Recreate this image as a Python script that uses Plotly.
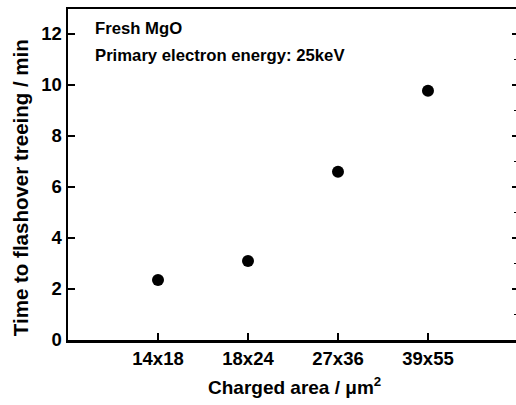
import plotly.graph_objects as go

categories = ["14x18", "18x24", "27x36", "39x55"]
positions = [1, 2, 3, 4]
times = [2.35, 3.1, 6.6, 9.77]
y_ticks = [0, 2, 4, 6, 8, 10, 12]

FONT = "Liberation Sans, Arial, sans-serif"

fig = go.Figure()
fig.add_trace(go.Scatter(
    x=positions, y=times, mode="markers",
    marker=dict(color="black", size=12, symbol="circle"),
    showlegend=False, hoverinfo="skip",
))
fig.add_trace(go.Scatter(x=[None], y=[None], yaxis="y2", showlegend=False))

fig.update_layout(
    width=516, height=405,
    margin=dict(l=68, r=0, t=9, b=65, autoexpand=False),
    plot_bgcolor="white", paper_bgcolor="white",
    font=dict(family=FONT, color="black", size=14, weight="bold"),
    xaxis=dict(
        range=[0, 4.978], tickvals=positions, ticktext=categories,
        ticks="inside", ticklen=7, tickwidth=2, tickcolor="black",
        showline=True, linewidth=2.5, linecolor="black", mirror=True,
        showgrid=False, zeroline=False, automargin=False,
        tickfont=dict(size=18.5, family=FONT, weight="bold"),
    ),
    yaxis=dict(
        range=[0, 12.98], tickvals=y_ticks,
        ticks="inside", ticklen=7, tickwidth=2, tickcolor="black",
        showline=True, linewidth=2.5, linecolor="black",
        showgrid=False, zeroline=False, automargin=False,
        tickfont=dict(size=18.5, family=FONT, weight="bold"),
    ),
    yaxis2=dict(
        range=[0, 12.98], overlaying="y", side="right",
        tickvals=y_ticks, ticks="inside", ticklen=4, tickwidth=2, tickcolor="black",
        showticklabels=False, showline=False, showgrid=False, zeroline=False,
        automargin=False,
        minor=dict(dtick=1, ticks="inside", ticklen=2, tickwidth=1, tickcolor="black"),
    ),
)

# axis titles
fig.add_annotation(x=-0.107, y=0.459, xref="paper", yref="paper",
                   text="Time to flashover treeing / min", showarrow=False,
                   textangle=-90, xanchor="center", yanchor="middle",
                   font=dict(size=20.5, family=FONT, weight="bold"))
fig.add_annotation(x=0.506, y=-0.14, xref="paper", yref="paper",
                   text="Charged area / μm<sup>2</sup>", showarrow=False,
                   xanchor="center", yanchor="middle",
                   font=dict(size=19, family=FONT, weight="bold"))

# in-plot labels
fig.add_annotation(x=0.0558, y=0.94, xref="paper", yref="paper",
                   text="Fresh MgO", showarrow=False, xanchor="left", yanchor="middle",
                   font=dict(size=16.7, family=FONT, weight="bold"))
fig.add_annotation(x=0.0558, y=0.861, xref="paper", yref="paper",
                   text="Primary electron energy: 25keV", showarrow=False,
                   xanchor="left", yanchor="middle",
                   font=dict(size=16.7, family=FONT, weight="bold"))

fig.write_html(
    "out.html",
    config={"displayModeBar": False, "staticPlot": True},
    post_script="document.body.style.margin='0';document.body.style.overflow='hidden';",
)
